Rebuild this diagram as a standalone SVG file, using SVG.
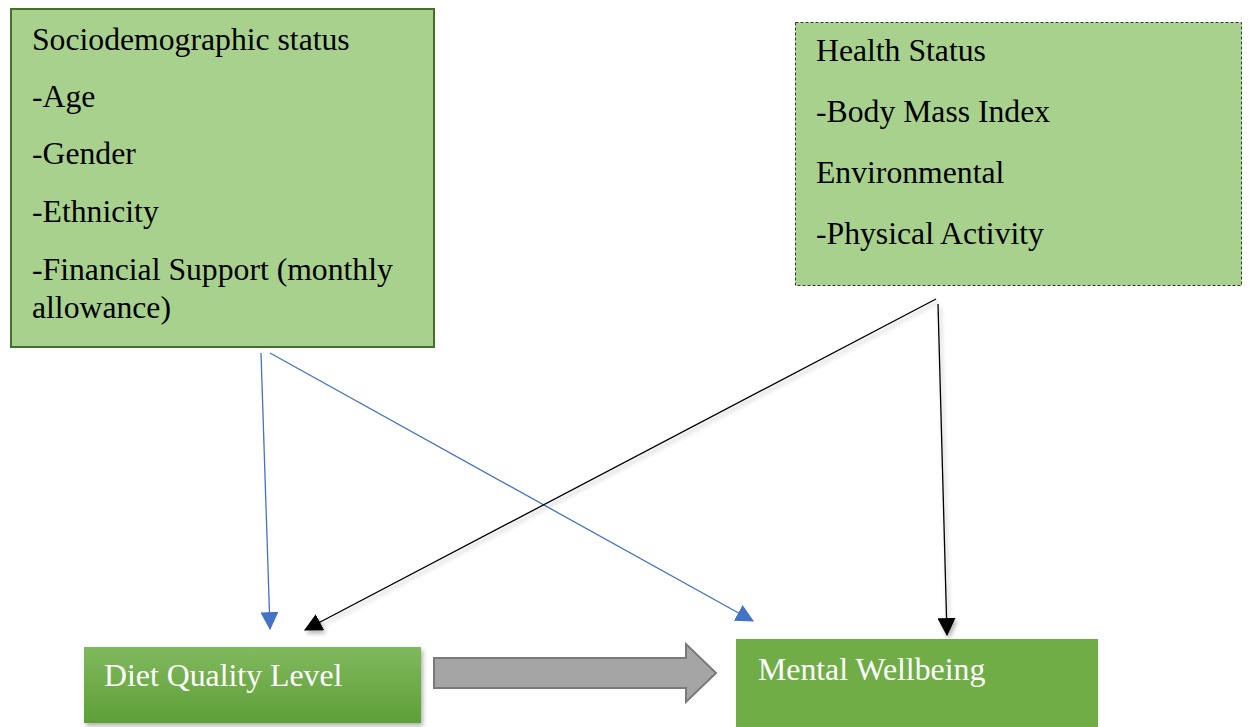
<svg xmlns="http://www.w3.org/2000/svg" width="1250" height="727" viewBox="0 0 1250 727">
  <style>
    .t { font-family: "Liberation Serif", "Times New Roman", serif; font-size: 31.7px; fill: #000; }
    .tw { font-family: "Liberation Serif", "Times New Roman", serif; font-size: 31.8px; fill: #fff; }
    .blue { stroke: #4472c4; stroke-width: 1.3; fill: none; }
    .black { stroke: #000; stroke-width: 1.3; fill: none; }
  </style>
  <defs>
    <marker id="ahBlue" markerUnits="userSpaceOnUse" markerWidth="18" markerHeight="18" viewBox="0 0 16 16" refX="15" refY="8" orient="auto">
      <path d="M0,0 L16,8 L0,16 Z" fill="#4472c4"/>
    </marker>
    <marker id="ahBlack" markerUnits="userSpaceOnUse" markerWidth="18" markerHeight="18" viewBox="0 0 16 16" refX="15" refY="8" orient="auto">
      <path d="M0,0 L16,8 L0,16 Z" fill="#000"/>
    </marker>
    <linearGradient id="gDiet" x1="0" y1="0" x2="0" y2="1">
      <stop offset="0" stop-color="#80b95e"/>
      <stop offset="1" stop-color="#5e9f36"/>
    </linearGradient>
    <filter id="shadow" x="-10%" y="-10%" width="130%" height="140%">
      <feDropShadow dx="2" dy="3" stdDeviation="2" flood-color="#000" flood-opacity="0.3"/>
    </filter>
  </defs>

  <g id="sociodemographic">
    <rect x="11" y="9" width="423" height="338" fill="#a9d18e" stroke="#466f2a" stroke-width="2"/>
    <text class="t" x="32" y="50">Sociodemographic status</text>
    <text class="t" x="32" y="107">-Age</text>
    <text class="t" x="32" y="164">-Gender</text>
    <text class="t" x="32" y="222">-Ethnicity</text>
    <text class="t" x="32" y="280">-Financial Support (monthly</text>
    <text class="t" x="32" y="318">allowance)</text>
  </g>

  <g id="health">
    <rect x="795.5" y="22.5" width="446" height="263" fill="#a9d18e" stroke="#333" stroke-width="1" stroke-dasharray="3,2"/>
    <text class="t" x="816" y="61">Health Status</text>
    <text class="t" x="816" y="122">-Body Mass Index</text>
    <text class="t" x="816" y="183">Environmental</text>
    <text class="t" x="816" y="244">-Physical Activity</text>
  </g>

  <g id="diet-quality">
    <rect x="84" y="647" width="337" height="76" fill="url(#gDiet)" filter="url(#shadow)"/>
    <text class="tw" x="104" y="686">Diet Quality Level</text>
  </g>

  <g id="mental-wellbeing">
    <rect x="736" y="639" width="362" height="92" fill="#70ad47"/>
    <text class="tw" x="758" y="680">Mental Wellbeing</text>
  </g>

  <g id="connectors">
    <line class="blue" x1="261" y1="353" x2="270" y2="629" marker-end="url(#ahBlue)"/>
    <line class="blue" x1="270" y1="353" x2="753" y2="621" marker-end="url(#ahBlue)"/>
    <g filter="url(#shadow)">
      <line class="black" x1="936" y1="299" x2="305" y2="630" marker-end="url(#ahBlack)"/>
      <line class="black" x1="938" y1="304" x2="947" y2="635" marker-end="url(#ahBlack)"/>
    </g>
    <path d="M434,658 L686,658 L686,644 L716,673 L686,702 L686,688 L434,688 Z" fill="#a5a5a5" stroke="#7a7a7a" stroke-width="2" stroke-linejoin="miter"/>
  </g>
</svg>
